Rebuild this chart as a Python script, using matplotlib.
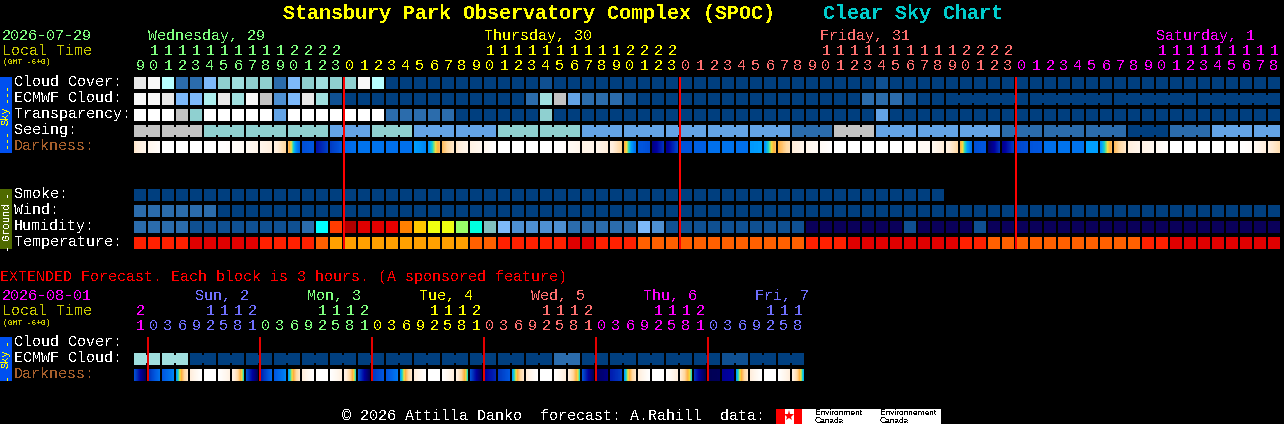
import numpy as np
import matplotlib
matplotlib.use("Agg")
import matplotlib.pyplot as plt
from matplotlib.colors import LinearSegmentedColormap

# ---------- data ----------
PALETTE = {
    'a': '#003F7F', 'b': '#0F5092', 'c': '#2B6CAC', 'd': '#4E90D2', 'e': '#63A3E6',
    'f': '#7DB9FA', 'g': '#8FD0D0', 'h': '#A0DFDF', 'i': '#AEEEEE', 'j': '#B8FFFF',
    'k': '#C3C3C3', 'l': '#E8E8E8', 'm': '#F8F8F8', 'n': '#FFFFFF', 'o': '#0A005A',
    'p': '#00FFFF', 'q': '#FF3C00', 'r': '#B00000', 's': '#E00000', 't': '#E80000',
    'u': '#FF8000', 'v': '#FFC800', 'w': '#F0FF10', 'x': '#98FF68', 'y': '#00FFE0',
    'z': '#80C0C0', 'A': '#FF2000', 'B': '#FF6000', 'C': '#FFA000',
}
cloud_cover = list("lmjccfghggcfghggmj") + list("a" * 11) + ["b"] + list("a" * 23) + ["b"] + list("a" * 28)
ecmwf_cloud = list("mmlffilhmkdflhb") + list("a" * 13) + list("chkecccb") + list("a" * 16) + list("cccb") + list("a" * 26)
transparency = list("nnnkgnnnnnennnnnnn") + list("ccccc") + list("a" * 6) + ["g"] + list("a" * 23) + ["e"] + list("a" * 28)
seeing_blocks = [2] + [3] * 26 + [2]
seeing_levels = ['k', 'k', 'g', 'g', 'g', 'e', 'g', 'e', 'e', 'g', 'g', 'e', 'e', 'e', 'e', 'e', 'c', 'k', 'e', 'e',
                 'e', 'c', 'c', 'c', 'a', 'c', 'e', 'e']
smoke = list("a" * 58)
wind = list("cccccc") + list("a" * 76)
humidity = (list("cccc") + list("b" * 8) + list("c") + list("pqrsstuv") + list("wwxyzf") + list("dddd") + list("ccccc")
            + list("fd") + list("b" * 10) + list("o" * 7) + ["b"] + list("o" * 4) + ["b"] + list("o" * 21))
temperature = (list("AAAA") + list("sssss") + list("AAAA") + ["B"] + list("C" * 10) + list("BB") + list("AAAAA") + list("ss")
               + list("AAA") + list("B" * 12) + list("AAA") + list("s" * 8) + list("AA") + list("B" * 11) + list("AA") + list("s" * 8))

dark_start = [.72,.86,1,1,1,1,1,.96,.90,.85,.78,.60,.30,.18,.26,.36,.39,.39,.38,.38,.46,.44,.60,.72,.80,.88,
              1,1,1,1,1,.92,.82,.85,.78,.58,.32,.10,.12,.31,.34,.38,.39,.38,.45,.44,.58,.74,.85,.92,
              1,1,1,1,1,1,.92,.90,.78,.58,.30,.05,.12,.28,.31,.38,.39,.39,.46,.44,.60,.76,.82,.90,
              1,1,1,1,1,1,.90,.76]
dark_end = [.85,.95,1,1,1,1,.97,.92,.84,.76,.65,.36,.32,.27,.32,.38,.39,.39,.38,.38,.42,.60,.72,.85,.88,1,
            1,1,1,1,.96,.85,.85,.74,.64,.38,.30,.24,.28,.31,.34,.38,.39,.38,.46,.60,.68,.85,.92,1,
            1,1,1,1,1,.95,.92,.74,.66,.38,.32,.24,.26,.30,.32,.38,.39,.39,.46,.60,.72,.85,.88,.98,
            1,1,1,1,1,.95,.76,.68]

hour_of_col = [(9 + c) % 24 for c in range(82)]
day_of_col = ["wed"] * 15 + ["thu"] * 24 + ["fri"] * 24 + ["sat"] * 19
DAY_COLOR = {"wed": "#80FF80", "thu": "#FFFF00", "fri": "#FF7070", "sat": "#FF00FF",
             "sun": "#7070FF", "mon": "#80FF80", "tue": "#FFFF00", "wed2": "#FF7070", "thu2": "#FF00FF", "fri2": "#7070FF"}
day_labels = [("Wednesday, 29", 1, "wed"), ("Thursday, 30", 25, "thu"), ("Friday, 31", 49, "fri"), ("Saturday, 1", 73, "sat")]

ext_ecmwf = list("hhhh") + list("a" * 26) + list("cc") + list("a" * 10) + list("bb") + list("aaaa")
ext_dark_start = [.30,.24,.32,.46,.75,1,1,.80, .30,.20,.32,.46,.75,1,1,.80, .30,.25,.31,.46,.75,1,1,.78,
                  .30,.14,.25,.46,.75,1,1,.76, .30,.05,.20,.46,.75,1,1,.74, .24,.02,.13,.46,.75,1,1,.78]
ext_dark_end = [.02,.38,.42,.72,1,1,.80,.50, .02,.36,.42,.72,1,1,.78,.50, .02,.32,.40,.72,1,1,.76,.50,
                .02,.22,.32,.72,1,1,.75,.50, .02,.10,.26,.72,1,1,.75,.50, .01,.03,.16,.72,1,1,.75,.47]
ext_hours = [21] + [(3 * k) % 24 for k in range(47)]
ext_day_of_col = ["sat"] + ["sun"] * 8 + ["mon"] * 8 + ["tue"] * 8 + ["wed2"] * 8 + ["thu2"] * 8 + ["fri2"] * 7
ext_day_labels = [("Sun, 2", 195, "sun"), ("Mon, 3", 307, "mon"), ("Tue, 4", 419, "tue"),
                  ("Wed, 5", 531, "wed2"), ("Thu, 6", 643, "thu2"), ("Fri, 7", 755, "fri2")]

dark_cmap = LinearSegmentedColormap.from_list("dark", [
    (0.00, "#00004A"), (0.15, "#0000A0"), (0.25, "#0038C0"), (0.32, "#0058E0"), (0.40, "#0078F0"),
    (0.46, "#00A0FF"), (0.50, "#20D8C0"), (0.54, "#F0E040"), (0.58, "#FFB040"), (0.65, "#FFD8A0"),
    (0.75, "#FFEEDC"), (0.88, "#FFF8F0"), (1.00, "#FFFFFF")])

# ---------- figure ----------
plt.rcParams['font.family'] = ['Liberation Mono', 'DejaVu Sans Mono']
plt.rcParams['text.antialiased'] = False
plt.rcParams['text.hinting'] = 'native'
fig = plt.figure(figsize=(12.84, 4.24), dpi=100, facecolor="black")
ax = fig.add_axes([0, 0, 1, 1], facecolor="black")
ax.set_axis_off()

X0, PITCH, W = 134, 14, 12
FS = 10.8
DY = 1


def left(c):
    return X0 + PITCH * c


def row(vals, y, blocks=None):
    xs = [left(c) for c in range(len(vals))]
    ax.bar(xs, W, bottom=y, width=W, align='edge', color=[PALETTE[v] for v in vals], linewidth=0, antialiased=False)
    if blocks:
        start = 0
        for n in blocks:
            for c in range(start, start + n - 1):
                ax.bar(left(c) + W, 8, bottom=y + 2, width=PITCH - W, align='edge', color=PALETTE[vals[c]],
                       linewidth=0, antialiased=False)
            start += n


def dark_row(s, e, y):
    for c, (a, b) in enumerate(zip(s, e)):
        ax.imshow(np.linspace(a, b, W)[None, :], extent=(left(c), left(c) + W, y + W, y), cmap=dark_cmap,
                  vmin=0, vmax=1, aspect='auto', interpolation='nearest', zorder=2)


def txt(x, y, s, color="white", size=FS, **kw):
    kw.setdefault('ha', 'left')
    kw.setdefault('va', 'center')
    ax.text(x, y + DY, s, color=color, fontsize=size, **kw)


# title
txt(283, 12, "Stansbury Park Observatory Complex (SPOC)", "#FFFF00", 14.4, fontweight='bold')
txt(823, 12, "Clear Sky Chart", "#00CCCC", 14.4, fontweight='bold')

# header main
txt(2, 35, "2026-07-29", "#80FF80")
txt(2, 50, "Local Time", "#C8C800")
txt(3, 61, "(GMT -6+0)", "#C8C800", 5.8)
for s, c, d in day_labels:
    txt(left(c), 35, s, DAY_COLOR[d])
for c, (h, d) in enumerate(zip(hour_of_col, day_of_col)):
    col = DAY_COLOR[d]
    if h >= 10:
        txt(left(c) + 6, 50, str(h // 10), col, ha='center')
    txt(left(c) + 6, 65, str(h % 10), col, ha='center')

# sky rows
row_labels = [("Cloud Cover:", 81), ("ECMWF Cloud:", 97), ("Transparency:", 113), ("Seeing:", 129)]
for s, y in row_labels:
    txt(14, y, s)
txt(14, 145, "Darkness:", "#A8602C")
row(cloud_cover, 77)
row(ecmwf_cloud, 93, blocks=[1] * 58 + [6, 6, 6, 6])
row(transparency, 109)
seeing = []
for n, lev in zip(seeing_blocks, seeing_levels):
    seeing += [lev] * n
row(seeing, 125, blocks=seeing_blocks)
dark_row(dark_start, dark_end, 141)

# ground rows
for s, y in [("Smoke:", 193), ("Wind:", 209), ("Humidity:", 225), ("Temperature:", 241)]:
    txt(14, y, s)
row(smoke, 189)
row(wind, 205)
row(humidity, 221)
row(temperature, 237)

# main midnight lines
ax.bar([left(c) - 1 for c in (15, 39, 63)], 172, bottom=77, width=2, align='edge', color="#FF0000",
       linewidth=0, antialiased=False, zorder=5)

# side boxes
ax.bar(0, 76, bottom=77, width=12, align='edge', color="#0050F0", linewidth=0, antialiased=False)
ax.bar(0, 60, bottom=189, width=12, align='edge', color="#4F6A00", linewidth=0, antialiased=False)
ax.bar(0, 44, bottom=337, width=12, align='edge', color="#0050F0", linewidth=0, antialiased=False)
SB = 7.6
for y, s in [(92, "---"), (115, "Sky"), (138, "---")]:
    txt(6, y, s, "#FFFF00", SB, rotation=90, ha='center')
for y, s in [(193, "-"), (220, "Ground"), (246, "-")]:
    txt(6, y, s, "white", SB, rotation=90, ha='center')
for y, s in [(341, "-"), (358, "Sky"), (376, "-")]:
    txt(6, y, s, "#FFFF00", SB, rotation=90, ha='center')

# extended section
txt(0, 276, "EXTENDED Forecast. Each block is 3 hours. (A sponsored feature)", "#FF0000")
txt(2, 295, "2026-08-01", "#FF00FF")
txt(2, 310, "Local Time", "#C8C800")
txt(3, 322, "(GMT -6+0)", "#C8C800", 5.8)
for s, x, d in ext_day_labels:
    txt(x, 295, s, DAY_COLOR[d])
for c, (h, d) in enumerate(zip(ext_hours, ext_day_of_col)):
    col = DAY_COLOR[d]
    if h >= 10:
        txt(left(c) + 6, 310, str(h // 10), col, ha='center')
    txt(left(c) + 6, 325, str(h % 10), col, ha='center')
for s, y, col in [("Cloud Cover:", 341, "white"), ("ECMWF Cloud:", 357, "white"), ("Darkness:", 373, "#A8602C")]:
    txt(14, y, s, col)
row(ext_ecmwf, 353, blocks=[2] * 24)
dark_row(ext_dark_start, ext_dark_end, 369)
ax.bar([left(c) - 1 for c in (1, 9, 17, 25, 33, 41)], 44, bottom=337, width=2, align='edge', color="#E60000",
       linewidth=0, antialiased=False, zorder=5)

# footer
txt(342, 415, "\u00a9 2026 Attilla Danko  forecast: A.Rahill  data:")
ax.bar(776, 15, bottom=409, width=165, align='edge', color="white", linewidth=0, antialiased=False)
ax.bar([776, 794], 15, bottom=409, width=[9, 8], align='edge', color="#FF0000", linewidth=0, antialiased=False)
ax.plot([789], [416], marker='*', ms=8, color="#FF0000", mew=0, zorder=4)
for x, s in [(815, "Environment\nCanada"), (880, "Environnement\nCanada")]:
    ax.text(x, 417, s, color="black", fontsize=6.0, family=['Liberation Sans'], ha='left', va='center', linespacing=0.85,
            zorder=4)

ax.set_xlim(0, 1284)
ax.set_ylim(424, 0)
fig.savefig("out.png", dpi=100, facecolor="black")
